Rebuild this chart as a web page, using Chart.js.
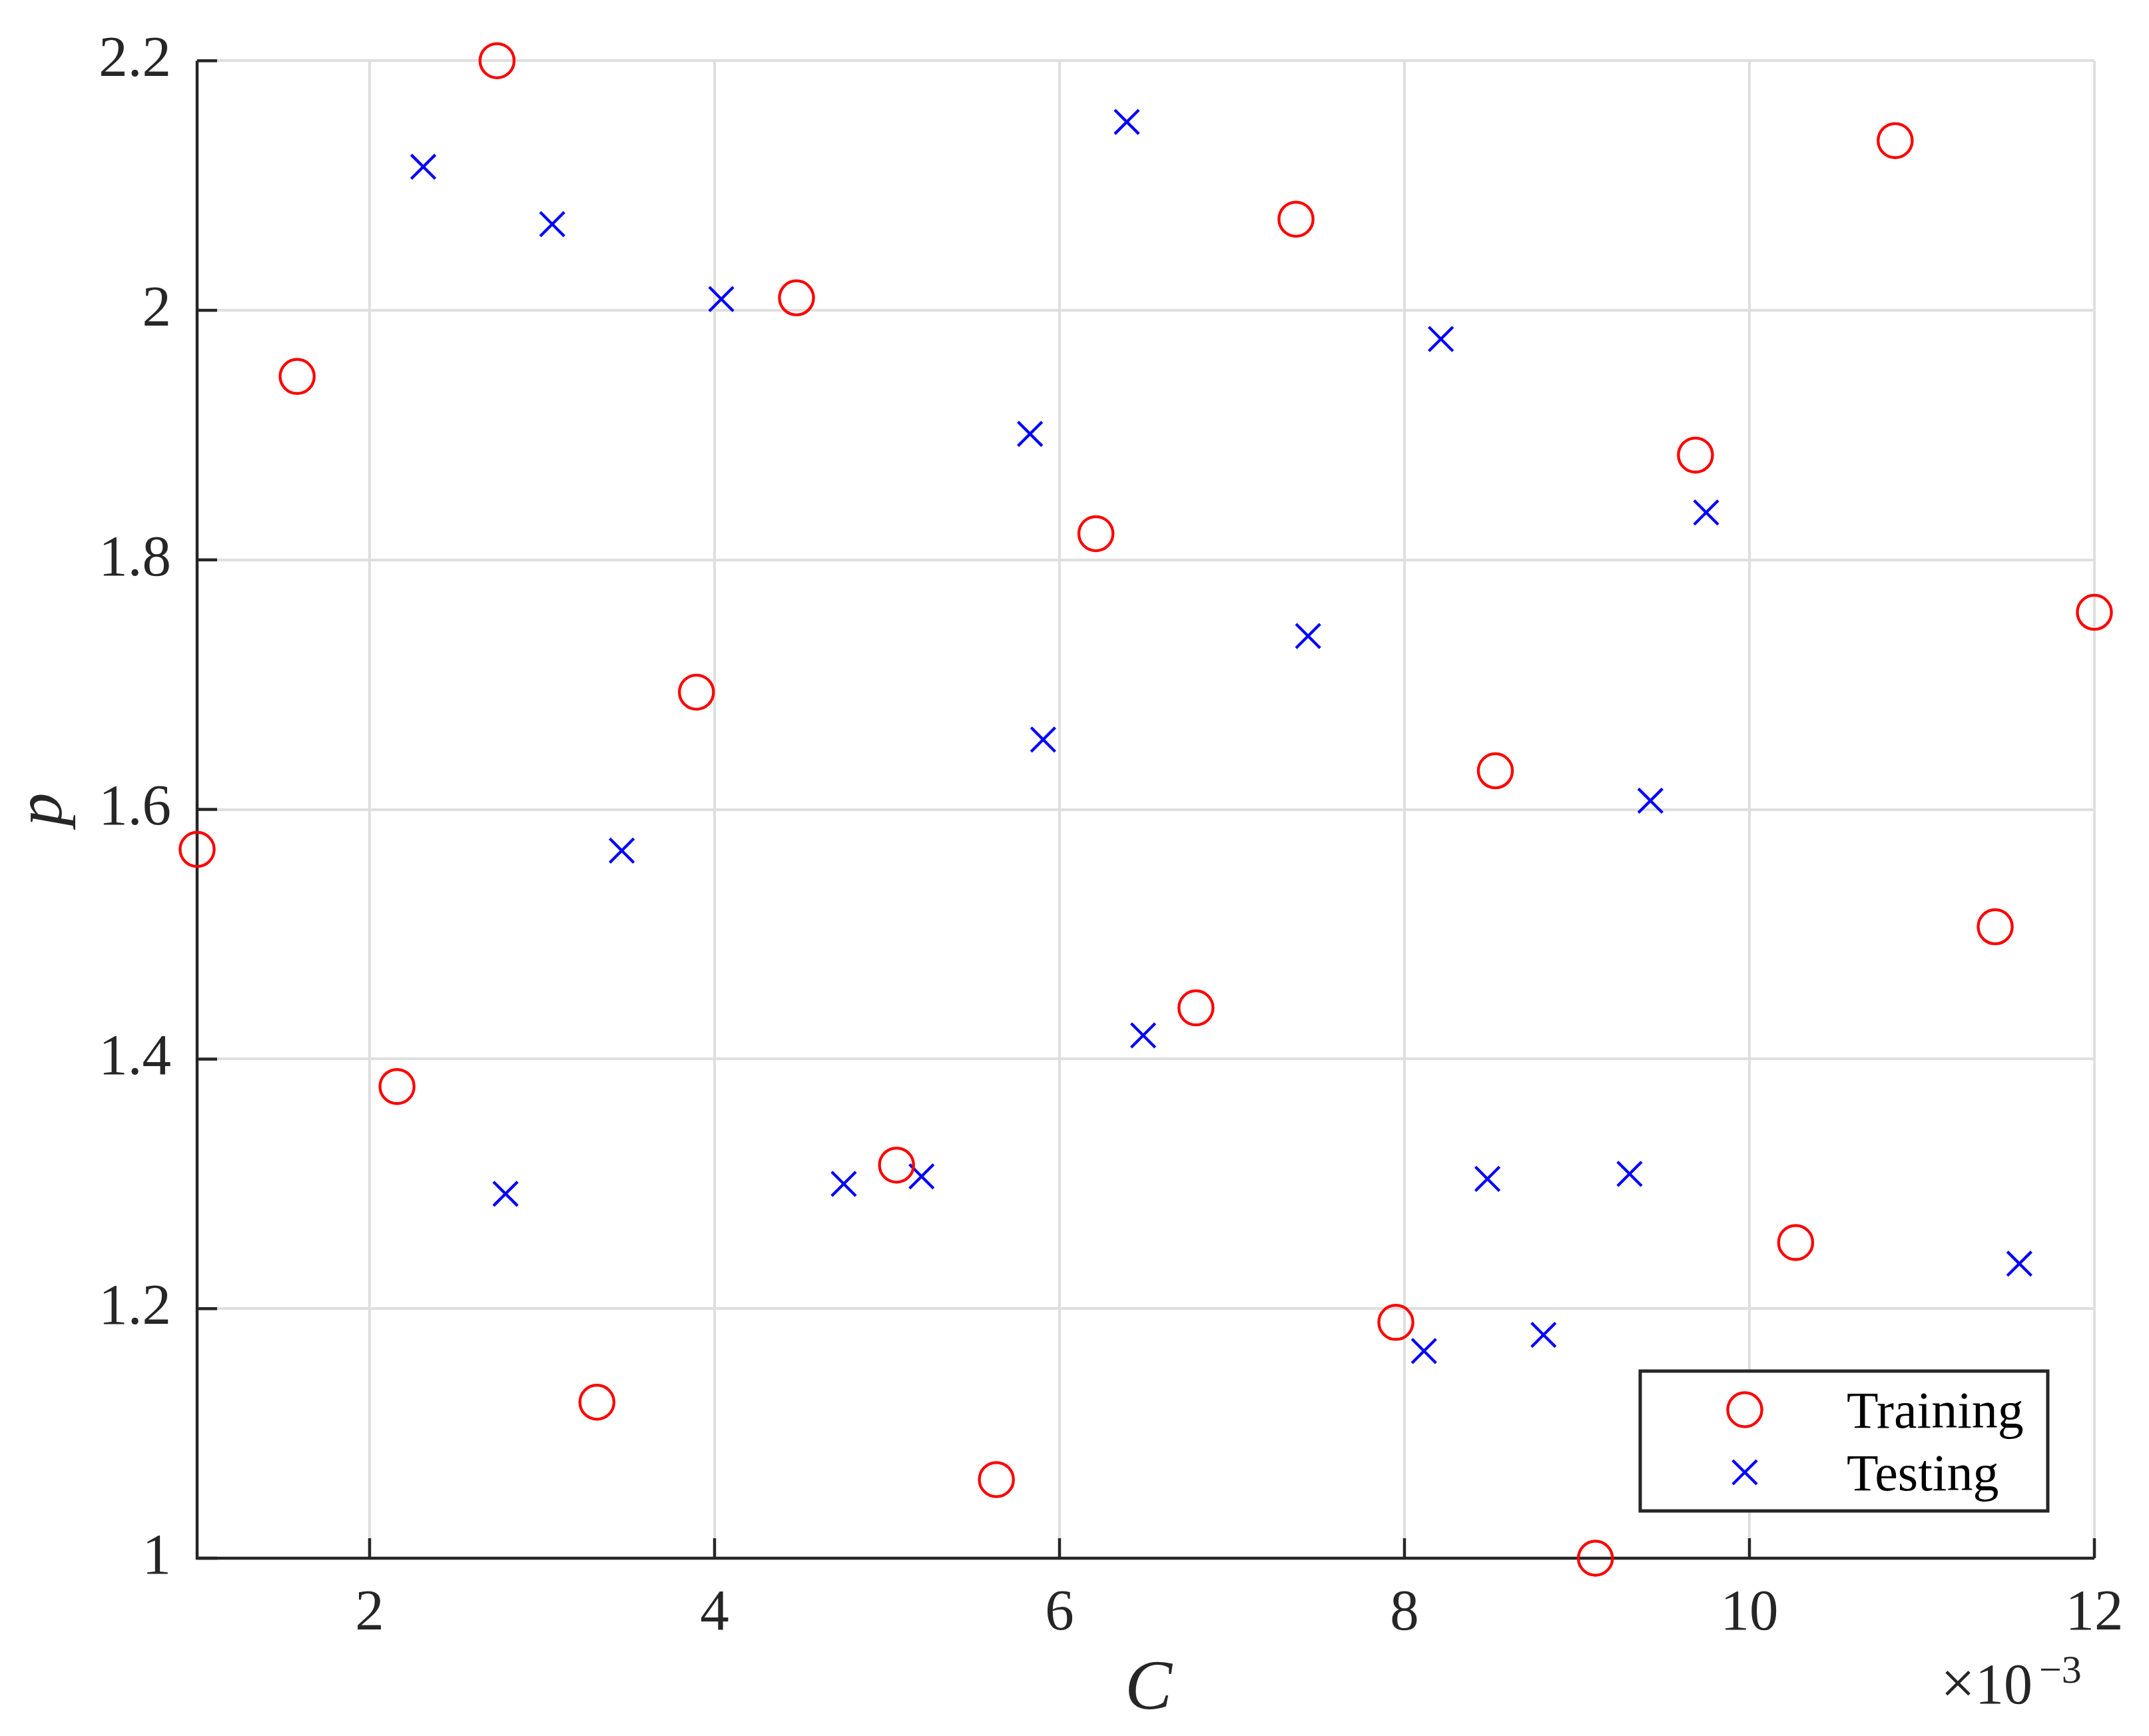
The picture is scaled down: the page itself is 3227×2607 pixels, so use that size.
<!DOCTYPE html>
<html>
<head>
<meta charset="utf-8">
<script src="https://cdn.jsdelivr.net/npm/chart.js@4/dist/chart.umd.min.js"></script>
<style>
html,body{margin:0;padding:0;background:#fff;}
canvas{display:block;}
</style>
</head>
<body>
<canvas id="c" width="3227" height="2607"></canvas>
<script>
// ---- data (C in units of 1e-3) ----
const seriesNames = ['Training', 'Testing'];
const trainC = [1.000, 1.580, 2.159, 2.739, 3.318, 3.895, 4.475, 5.055, 5.634, 6.211,
                6.791, 7.371, 7.950, 8.527, 9.107, 9.687, 10.268, 10.845, 11.425, 12.000];
const trainP = [1.568, 1.947, 1.378, 2.200, 1.125, 1.694, 2.010, 1.315, 1.063, 1.821,
                1.441, 2.073, 1.189, 1.631, 1.000, 1.884, 1.253, 2.136, 1.506, 1.758];
const testC  = [2.311, 2.788, 3.059, 3.462, 4.039, 4.749, 5.200, 5.829, 5.905, 6.390,
                6.485, 7.441, 8.113, 8.211, 8.481, 8.806, 9.305, 9.426, 9.749, 11.565];
const testP  = [2.115, 1.292, 2.069, 1.567, 2.009, 1.300, 1.306, 1.901, 1.656, 2.151,
                1.419, 1.739, 1.166, 1.977, 1.304, 1.179, 1.308, 1.607, 1.838, 1.236];
const xTicks = [2, 4, 6, 8, 10, 12];
const xTickLabels = ['2', '4', '6', '8', '10', '12'];
const yTicks = [1, 1.2, 1.4, 1.6, 1.8, 2, 2.2];
const yTickLabels = ['1', '1.2', '1.4', '1.6', '1.8', '2', '2.2'];
const xTitle = 'C';
const yTitle = 'p';
const xExponent = '\u22123';

const AX = '#262626';
const SERIF = '"Liberation Serif", "Times New Roman", serif';

const toPts = (xs, ys) => xs.map((x, i) => ({x: x, y: ys[i]}));

const decorPlugin = {
  id: 'decor',
  beforeDatasetsDraw(chart) {
    const ctx = chart.ctx, a = chart.chartArea;
    const xs = chart.scales.x, ys = chart.scales.y;
    ctx.save();
    ctx.strokeStyle = AX;
    ctx.lineWidth = 4.5;
    ctx.lineCap = 'butt';
    ctx.beginPath();
    ctx.moveTo(a.left, a.top);
    ctx.lineTo(a.left, a.bottom);
    ctx.lineTo(a.right, a.bottom);
    ctx.stroke();
    // inward ticks
    const tl = 30;
    ctx.beginPath();
    yTicks.forEach(v => { const y = ys.getPixelForValue(v); ctx.moveTo(a.left, y); ctx.lineTo(a.left + tl, y); });
    xTicks.forEach(v => { const x = xs.getPixelForValue(v); ctx.moveTo(x, a.bottom); ctx.lineTo(x, a.bottom - tl); });
    ctx.stroke();
    ctx.restore();
  },
  afterDraw(chart) {
    const ctx = chart.ctx, a = chart.chartArea;
    ctx.save();
    // axis titles
    ctx.fillStyle = AX;
    ctx.font = 'italic 106px ' + SERIF;
    ctx.textAlign = 'center';
    ctx.textBaseline = 'alphabetic';
    ctx.fillText(xTitle, (a.left + a.right) / 2 + 4, 2566);
    ctx.save();
    ctx.translate(92, (a.top + a.bottom) / 2);
    ctx.rotate(-Math.PI / 2);
    ctx.font = 'italic 100px ' + SERIF;
    ctx.fillText(yTitle, 0, 0);
    ctx.restore();
    // exponent
    ctx.textAlign = 'left';
    ctx.font = '92px ' + SERIF;
    ctx.fillText('\u00d7', 2914, 2558);
    ctx.font = '86px ' + SERIF;
    ctx.fillText('10', 2966, 2558);
    ctx.font = '60px ' + SERIF;
    ctx.fillText(xExponent, 3062, 2527);
    // legend
    const bx = 2463, by = 2059, bw = 612, bh = 210;
    ctx.fillStyle = '#fff';
    ctx.fillRect(bx, by, bw, bh);
    ctx.strokeStyle = AX;
    ctx.lineWidth = 5;
    ctx.strokeRect(bx, by, bw, bh);
    const ds = chart.data.datasets;
    const rows = [2117, 2211];
    ds.forEach((d, i) => {
      const cx = 2620, cy = rows[i], r = d.pointRadius;
      ctx.strokeStyle = d.borderColor;
      ctx.lineWidth = d.borderWidth;
      ctx.beginPath();
      if (d.pointStyle === 'circle') {
        ctx.arc(cx, cy, r, 0, Math.PI * 2);
      } else {
        const o = r * Math.SQRT1_2;
        ctx.moveTo(cx - o, cy - o); ctx.lineTo(cx + o, cy + o);
        ctx.moveTo(cx - o, cy + o); ctx.lineTo(cx + o, cy - o);
      }
      ctx.stroke();
      ctx.fillStyle = '#000';
      ctx.font = '78px ' + SERIF;
      ctx.textAlign = 'left';
      ctx.textBaseline = 'alphabetic';
      ctx.fillText(d.label, 2773, cy + 27);
    });
    ctx.restore();
  }
};

new Chart(document.getElementById('c'), {
  type: 'scatter',
  data: {
    datasets: [
      {
        label: seriesNames[0],
        data: toPts(trainC, trainP),
        pointStyle: 'circle',
        pointRadius: 25.6,
        borderColor: '#ff0000',
        backgroundColor: 'rgba(0,0,0,0)',
        borderWidth: 4.3,
        clip: false
      },
      {
        label: seriesNames[1],
        data: toPts(testC, testP),
        pointStyle: 'crossRot',
        pointRadius: 25.6,
        borderColor: '#0000ff',
        backgroundColor: 'rgba(0,0,0,0)',
        borderWidth: 4.3,
        clip: false
      }
    ]
  },
  options: {
    responsive: false,
    devicePixelRatio: 1,
    animation: false,
    events: [],
    layout: { padding: { top: 88, right: 82, left: 0, bottom: 0 } },
    plugins: { legend: { display: false }, tooltip: { enabled: false }, title: { display: false } },
    scales: {
      x: {
        type: 'linear',
        min: 1, max: 12,
        afterBuildTicks: s => { s.ticks = xTicks.map(v => ({ value: v })); },
        afterFit: s => { s.height = 267; },
        grid: { color: '#dfdfdf', lineWidth: 4, drawTicks: false },
        border: { display: false },
        ticks: {
          padding: 32,
          color: AX,
          font: { family: SERIF, size: 87 },
          maxRotation: 0,
          autoSkip: false,
          callback: v => xTickLabels[xTicks.indexOf(v)]
        }
      },
      y: {
        type: 'linear',
        min: 1, max: 2.2,
        afterBuildTicks: s => { s.ticks = yTicks.map(v => ({ value: v })); },
        afterFit: s => { s.width = 296; },
        grid: { color: '#dfdfdf', lineWidth: 4, drawTicks: false },
        border: { display: false },
        ticks: {
          padding: 39,
          color: AX,
          font: { family: SERIF, size: 87 },
          autoSkip: false,
          callback: v => { const i = yTicks.findIndex(t => Math.abs(t - v) < 1e-9); return i >= 0 ? yTickLabels[i] : ''; }
        }
      }
    }
  },
  plugins: [decorPlugin]
});
</script>
</body>
</html>
